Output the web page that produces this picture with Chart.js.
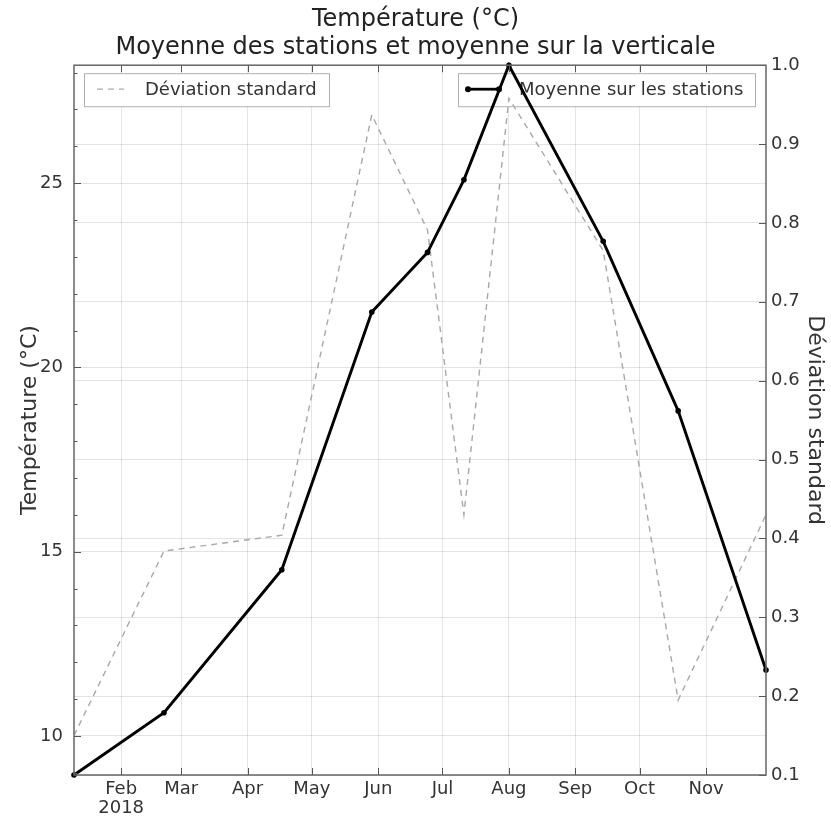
<!DOCTYPE html>
<html>
<head>
<meta charset="utf-8">
<script src="https://cdn.jsdelivr.net/npm/chart.js@4/dist/chart.umd.min.js"></script>
<style>
html,body{margin:0;padding:0;background:#fff;}
#wrap{width:831px;height:822px;}
</style>
</head>
<body>
<div id="wrap"><canvas id="c" width="831" height="822"></canvas></div>
<script>
const dates = ['2018-01-10','2018-02-21','2018-04-17','2018-05-29','2018-06-24','2018-07-11','2018-08-01','2018-09-14','2018-10-19','2018-11-29'];
const temperature = [8.94, 10.63, 14.51, 21.5, 23.12, 25.09, 28.2, 23.42, 18.82, 11.79];
const stdDev = [0.15, 0.384, 0.404, 0.937, 0.791, 0.43, 0.958, 0.765, 0.195, 0.43];
const monthTickDates = ['2018-02-01','2018-03-01','2018-04-01','2018-05-01','2018-06-01','2018-07-01','2018-08-01','2018-09-01','2018-10-01','2018-11-01'];
const monthLabels = ['Feb','Mar','Apr','May','Jun','Jul','Aug','Sep','Oct','Nov'];
const yearLabel = '2018';
const tempTicks = [10, 15, 20, 25];
const stdTicks = [0.1, 0.2, 0.3, 0.4, 0.5, 0.6, 0.7, 0.8, 0.9, 1.0];
const titleLines = ['Température (°C)', 'Moyenne des stations et moyenne sur la verticale'];
const leftTitle = 'Température (°C)';
const rightTitle = 'Déviation standard';
const legendStd = 'Déviation standard';
const legendTemp = 'Moyenne sur les stations';

const base = Date.UTC(2018,0,1);
const toDay = s => Math.round((Date.parse(s) - base) / 86400000);
const xDays = dates.map(toDay);
const monthDays = monthTickDates.map(toDay);

const FONT = "'DejaVu Sans', sans-serif";

const framePlugin = {
  id: 'frame',
  beforeDatasetsDraw(chart) {
    const ctx = chart.ctx, a = chart.chartArea;
    ctx.save();
    ctx.font = "18px " + FONT;
    ctx.textBaseline = 'middle';
    let lx = a.left + 10, ly = a.top + 8, lw = 245, lh = 33;
    ctx.fillStyle = '#fff';
    ctx.fillRect(lx, ly, lw, lh);
    ctx.strokeStyle = '#b0b0b0'; ctx.lineWidth = 1;
    ctx.strokeRect(lx + 0.5, ly + 0.5, lw, lh);
    ctx.strokeStyle = '#aaa'; ctx.lineWidth = 1.3; ctx.setLineDash([6,5]);
    ctx.beginPath(); ctx.moveTo(lx + 13, ly + 16); ctx.lineTo(lx + 40, ly + 16); ctx.stroke();
    ctx.setLineDash([]);
    ctx.fillStyle = '#333';
    ctx.textAlign = 'left';
    ctx.fillText(legendStd, lx + 61, ly + 17);
    let rw = 297, rx = a.right - 11 - rw, ry = a.top + 8;
    ctx.fillStyle = '#fff';
    ctx.fillRect(rx, ry, rw, lh);
    ctx.strokeStyle = '#b0b0b0'; ctx.lineWidth = 1;
    ctx.strokeRect(rx + 0.5, ry + 0.5, rw, lh);
    ctx.strokeStyle = '#000'; ctx.lineWidth = 2.8;
    ctx.beginPath(); ctx.moveTo(rx + 10, ry + 16); ctx.lineTo(rx + 41, ry + 16); ctx.stroke();
    ctx.fillStyle = '#000';
    [rx + 10, rx + 41].forEach(px => { ctx.beginPath(); ctx.arc(px, ry + 16, 3, 0, Math.PI*2); ctx.fill(); });
    ctx.fillStyle = '#333';
    ctx.fillText(legendTemp, rx + 61, ry + 17);
    ctx.restore();
  },
  afterDatasetsDraw(chart) {
    const ctx = chart.ctx, a = chart.chartArea;
    ctx.save();
    ctx.strokeStyle = '#555'; ctx.lineWidth = 1;
    const yl = chart.scales.y, yr = chart.scales.y2, x = chart.scales.x;
    for (let v = Math.ceil(yl.min); v <= yl.max; v++) {
      const py = Math.round(yl.getPixelForValue(v)) + 0.5;
      const len = (v % 5 === 0) ? 7 : 3.5;
      ctx.beginPath(); ctx.moveTo(a.left, py); ctx.lineTo(a.left + len, py); ctx.stroke();
    }
    stdTicks.forEach(v => {
      const py = Math.round(yr.getPixelForValue(v)) + 0.5;
      ctx.beginPath(); ctx.moveTo(a.right, py); ctx.lineTo(a.right - 7, py); ctx.stroke();
    });
    monthDays.forEach(v => {
      const px = Math.round(x.getPixelForValue(v)) + 0.5;
      ctx.beginPath(); ctx.moveTo(px, a.bottom); ctx.lineTo(px, a.bottom - 7); ctx.stroke();
      ctx.beginPath(); ctx.moveTo(px, a.top); ctx.lineTo(px, a.top + 7); ctx.stroke();
    });
    ctx.strokeStyle = '#666'; ctx.lineWidth = 1.5;
    ctx.strokeRect(a.left, a.top, a.right - a.left, a.bottom - a.top);
    ctx.restore();
  }
};

new Chart(document.getElementById('c'), {
  type: 'line',
  data: {
    datasets: [
      {
        label: legendTemp,
        data: xDays.map((d, i) => ({x: d, y: temperature[i]})),
        yAxisID: 'y',
        borderColor: '#000',
        backgroundColor: '#000',
        borderWidth: 2.9,
        pointRadius: 2.8,
        pointHoverRadius: 2.8,
        pointBorderWidth: 0,
        tension: 0,
        clip: 4
      },
      {
        label: legendStd,
        data: xDays.map((d, i) => ({x: d, y: stdDev[i]})),
        yAxisID: 'y2',
        borderColor: '#a8a8a8',
        borderWidth: 1.4,
        borderDash: [6, 5],
        pointRadius: 0,
        tension: 0
      }
    ]
  },
  options: {
    responsive: false,
    animation: false,
    devicePixelRatio: 1,
    layout: { padding: 0 },
    plugins: {
      legend: { display: false },
      tooltip: { enabled: false },
      title: {
        display: true,
        text: titleLines,
        color: '#222',
        font: { family: FONT, size: 24, weight: 'normal', lineHeight: 1.15 },
        padding: { top: 6, bottom: 4 }
      }
    },
    scales: {
      x: {
        type: 'linear',
        min: xDays[0],
        max: xDays[xDays.length - 1],
        afterBuildTicks: s => { s.ticks = monthDays.map(v => ({value: v})); },
        afterFit: s => { s.height = 47; },
        grid: { color: 'rgba(0,0,0,0.1)', drawTicks: false, lineWidth: 1 },
        border: { display: false },
        ticks: {
          color: '#333',
          padding: 5,
          maxRotation: 0,
          autoSkip: false,
          font: { family: FONT, size: 18, lineHeight: 1.05 },
          callback: v => {
            const i = monthDays.indexOf(v);
            if (i < 0) return '';
            return i === 0 ? [monthLabels[i], yearLabel] : monthLabels[i];
          }
        }
      },
      y: {
        position: 'left',
        min: Math.min(...temperature),
        max: Math.max(...temperature),
        afterBuildTicks: s => { s.ticks = tempTicks.map(v => ({value: v})); },
        afterFit: s => { s.width = 74; },
        grid: { color: 'rgba(0,0,0,0.11)', drawTicks: false },
        border: { display: false },
        ticks: { color: '#333', padding: 11, font: { family: FONT, size: 18 } },
        title: { display: true, text: leftTitle, color: '#333', font: { family: FONT, size: 22 }, padding: { top: 17, bottom: 0 } }
      },
      y2: {
        position: 'right',
        min: 0.1,
        max: 1.0,
        afterBuildTicks: s => { s.ticks = stdTicks.map(v => ({value: v})); },
        afterFit: s => { s.width = 65; },
        grid: { color: 'rgba(0,0,0,0.11)', drawTicks: false, borderDash: [2, 2] },
        border: { display: false },
        ticks: { color: '#333', padding: 5, font: { family: FONT, size: 18 }, callback: v => v.toFixed(1) },
        title: { display: true, text: rightTitle, color: '#333', font: { family: FONT, size: 22 }, padding: { top: 3, bottom: 0 } }
      }
    }
  },
  plugins: [framePlugin]
});
</script>
</body>
</html>
